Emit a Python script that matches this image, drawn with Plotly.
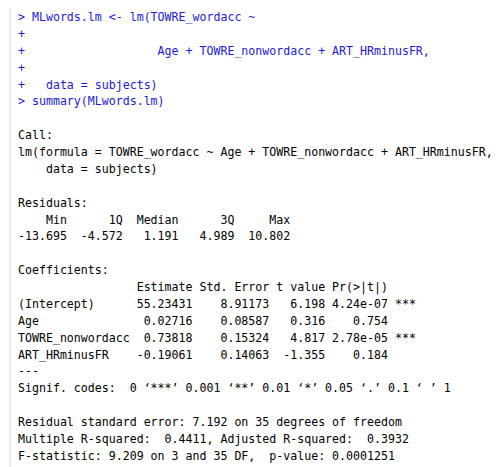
import plotly.graph_objects as go

input_lines = [
    "> MLwords.lm <- lm(TOWRE_wordacc ~",
    "+",
    "+                   Age + TOWRE_nonwordacc + ART_HRminusFR,",
    "+",
    "+   data = subjects)",
    "> summary(MLwords.lm)",
]
resid_labels = ["Min", "1Q", "Median", "3Q", "Max"]
resid_values = ["-13.695", "-4.572", "1.191", "4.989", "10.802"]
coef_names = ["(Intercept)", "Age", "TOWRE_nonwordacc", "ART_HRminusFR"]
estimates = ["55.23431", "0.02716", "0.73818", "-0.19061"]
std_errors = ["8.91173", "0.08587", "0.15324", "0.14063"]
t_values = ["6.198", "0.316", "4.817", "-1.355"]
p_values = ["4.24e-07", "0.754", "2.78e-05", "0.184"]
stars = ["***", "", "***", ""]

rh = " ".join(f"{v:>7}" for v in resid_labels)
rl = " ".join(f"{v:>7}" for v in resid_values)
coef_lines = [" " * 16 + " Estimate Std. Error t value Pr(>|t|)    "]
for n, e, s, t, p, st in zip(coef_names, estimates, std_errors, t_values, p_values, stars):
    coef_lines.append(f"{n:<16} {e:>8} {s:>10} {t:>7} {p:>8} {st}")

output_lines = [
    "",
    "Call:",
    "lm(formula = TOWRE_wordacc ~ Age + TOWRE_nonwordacc + ART_HRminusFR,",
    "    data = subjects)",
    "",
    "Residuals:",
    rh,
    rl,
    "",
    "Coefficients:",
] + coef_lines + [
    "---",
    "Signif. codes:  0 ‘***’ 0.001 ‘**’ 0.01 ‘*’ 0.05 ‘.’ 0.1 ‘ ’ 1",
    "",
    "Residual standard error: 7.192 on 35 degrees of freedom",
    "Multiple R-squared:  0.4411, Adjusted R-squared:  0.3932 ",
    "F-statistic: 9.209 on 3 and 35 DF,  p-value: 0.0001251",
]

W, H = 501, 467
fig = go.Figure()
lines = [(l, "#1a1adb") for l in input_lines] + [(l, "#000000") for l in output_lines]
y0, lh, x0 = 9, 16.88, 8
for i, (txt, col) in enumerate(lines):
    if not txt:
        continue
    fig.add_annotation(
        x=x0 / W, y=1 - (y0 + i * lh) / H, xref="paper", yref="paper",
        xanchor="left", yanchor="middle", showarrow=False,
        text=txt.replace(" ", "\u00a0").replace(">", "&gt;").replace("<", "&lt;"),
        font=dict(family="DejaVu Sans Mono", size=11.6, color=col),
    )
fig.add_shape(type="line", xref="paper", yref="paper", x0=0.004, x1=0.004, y0=0, y1=1,
              line=dict(color="#d8d8d8", width=1))
fig.update_xaxes(visible=False)
fig.update_yaxes(visible=False)
fig.update_layout(width=W, height=H, margin=dict(l=0, r=0, t=0, b=0),
                  paper_bgcolor="white", plot_bgcolor="white", showlegend=False)
fig.write_html("out.html")
